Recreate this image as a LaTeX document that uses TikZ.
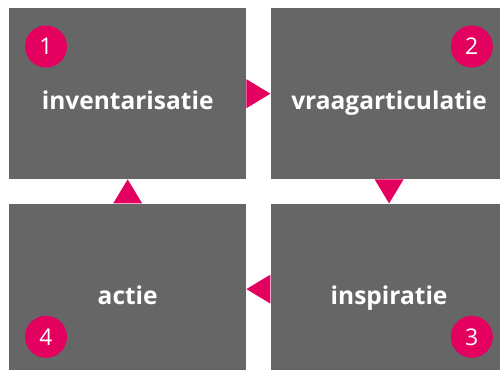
\documentclass[tikz,border=0pt]{standalone}
\usepackage{fontspec}
\setmainfont{Open Sans}
\usetikzlibrary{positioning}
\definecolor{boxgray}{HTML}{666666}
\definecolor{accent}{HTML}{E3005F}

\begin{document}
\begin{tikzpicture}[box/.style={fill=boxgray, minimum width=237pt, minimum height=171pt, inner sep=0pt},
	txt/.style={text=white, anchor=base, font=\bfseries\fontsize{24.5}{27}\selectfont},
	num/.style={circle, fill=accent, text=white, minimum size=42pt, inner sep=0pt, font=\fontsize{23}{26}\selectfont},
	tri/.style={fill=accent}]
		\useasboundingbox (0,0) rectangle (500pt,-369pt);
		\node [box, anchor=north west] (inv) at (9pt,-8pt) {};
		\node [box, right=24pt of inv] (vra) {};
		\node [box, below=24pt of vra] (ins) {};
		\node [box, below=24pt of inv] (act) {};

		\node [txt] (tinv) at ([yshift=-15.5pt]inv.center) {inventarisatie};
		\node [txt] (tvra) at ([yshift=-15.5pt]vra.center) {vraagarticulatie};
		\node [txt] (tins) at ([yshift=-15.5pt]ins.center) {inspiratie};
		\node [txt] (tact) at ([yshift=-15.5pt]act.center) {actie};

		\node [num] (n1) at ([shift={(37pt,-38.5pt)}]inv.north west) {1};
		\node [num] (n2) at ([shift={(-36pt,-38.5pt)}]vra.north east) {2};
		\node [num] (n3) at ([shift={(-36pt,38pt)}]ins.south east) {3};
		\node [num] (n4) at ([shift={(37pt,38pt)}]act.south west) {4};

		\fill[tri] ([yshift=14.5pt]inv.east) -- ([yshift=-14.5pt]inv.east) -- (vra.west) -- cycle;
		\fill[tri] ([xshift=-14.5pt]vra.south) -- ([xshift=14.5pt]vra.south) -- (ins.north) -- cycle;
		\fill[tri] ([yshift=14.5pt]ins.west) -- ([yshift=-14.5pt]ins.west) -- (act.east) -- cycle;
		\fill[tri] ([xshift=-14.5pt]act.north) -- ([xshift=14.5pt]act.north) -- (inv.south) -- cycle;
	\end{tikzpicture}
\end{document}
